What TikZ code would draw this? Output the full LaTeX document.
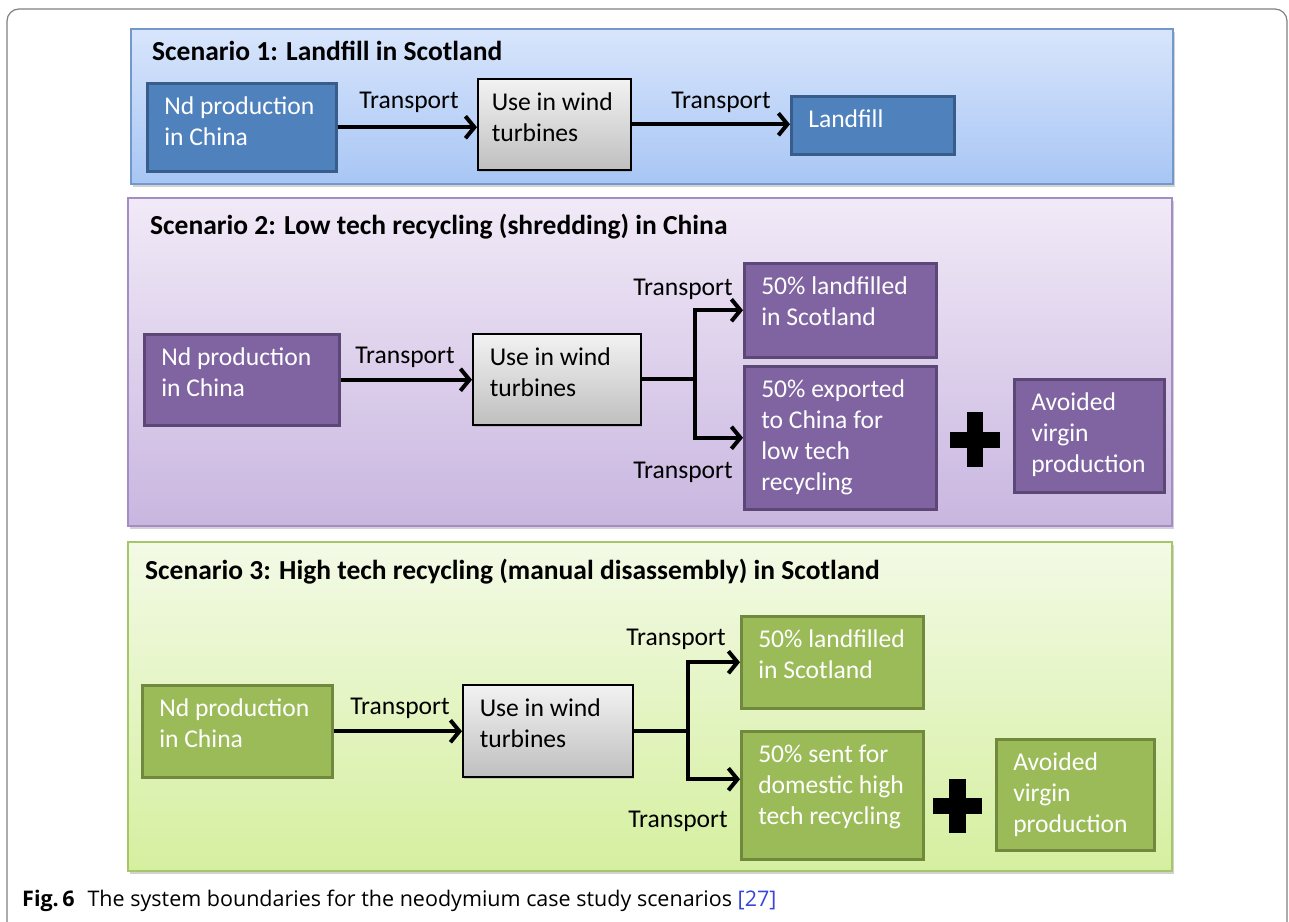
\documentclass[tikz,border=0pt]{standalone}
\usepackage{fontspec}
\setmainfont{Carlito}
\newfontfamily\capfont{Open Sans}
\usetikzlibrary{arrows.meta,shadows,calc}

\definecolor{sOneTop}{HTML}{D8E5FC}
\definecolor{sOneBot}{HTML}{A8C6F4}
\definecolor{sOneLine}{HTML}{7399CC}
\definecolor{sTwoTop}{HTML}{F1EAF7}
\definecolor{sTwoBot}{HTML}{C9B6E0}
\definecolor{sTwoLine}{HTML}{A48DC4}
\definecolor{sThreeTop}{HTML}{F3FAE6}
\definecolor{sThreeBot}{HTML}{D5EF9F}
\definecolor{sThreeLine}{HTML}{A6C66A}
\definecolor{blueBox}{HTML}{4F81BD}
\definecolor{blueEdge}{HTML}{385D8A}
\definecolor{purpleBox}{HTML}{8064A2}
\definecolor{purpleEdge}{HTML}{5C4776}
\definecolor{greenBox}{HTML}{9BBB59}
\definecolor{greenEdge}{HTML}{71893F}
\definecolor{capblue}{HTML}{3A45E0}
\definecolor{frameGray}{HTML}{808080}

\newcommand\boxtxt[3]{\parbox[t][#2][t]{#1}{\raggedright\strut #3}}

\begin{document}
\begin{tikzpicture}[x=1pt,y=-1pt,
  panel/.style={draw, line width=1.5pt, anchor=north west, inner sep=0pt,
    drop shadow={shadow xshift=2pt, shadow yshift=-3pt, opacity=0.35}},
  title/.style={anchor=base west, inner sep=0pt, font=\bfseries\fontsize{27.5}{32}\selectfont},
  box/.style={draw, line width=2.5pt, anchor=north west, inner xsep=17pt, inner ysep=10pt,
    text=white, font=\fontsize{25.6}{31}\selectfont,
    drop shadow={shadow xshift=1.5pt, shadow yshift=-2pt, opacity=0.3}},
  bluebox/.style={box, fill=blueBox, draw=blueEdge},
  purplebox/.style={box, fill=purpleBox, draw=purpleEdge},
  greenbox/.style={box, fill=greenBox, draw=greenEdge},
  usebox/.style={box, draw=black, line width=1.5pt, text=black, top color=white!95!black, bottom color=white!75!black},
  lbl/.style={anchor=base, inner sep=0pt, font=\fontsize{25.6}{30}\selectfont},
  conn/.style={line width=4pt, line join=miter},
  arr/.style={conn, -{Straight Barb[length=9pt,width=22pt]}}
]
\useasboundingbox (0,0) rectangle (1289,921);
\fill[white] (0,0) rectangle (1289,921);
\draw[frameGray, line width=1.2pt, rounded corners=12pt] (7,9) rectangle (1287,945);

% ---------- Scenario 1 ----------
\node[panel, draw=sOneLine, top color=sOneTop, bottom color=sOneBot,
  minimum width=1042pt, minimum height=155pt] (s1) at (130,28) {};
\node[title] (t1) at (152,60) {Scenario 1: Landfill in Scotland};
\node[bluebox] (n1) at (146,82) {\boxtxt{155pt}{68pt}{Nd production\\in China}};
\node[usebox, inner xsep=14pt] (u1) at (477,78) {\boxtxt{125pt}{71pt}{\mbox{Use in wind}\\turbines}};
\node[bluebox] (f1) at (790,95) {\boxtxt{129pt}{38pt}{Landfill}};
\draw[arr] (n1.east) -- (n1.east -| u1.west);
\draw[arr] (u1.east) -- (u1.east -| f1.west);
\node[lbl] (l1a) at (409,108) {Transport};
\node[lbl] (l1b) at (721,108) {Transport};

% ---------- Scenario 2 ----------
\node[panel, draw=sTwoLine, top color=sTwoTop, bottom color=sTwoBot,
  minimum width=1044pt, minimum height=328pt] (s2) at (127,197) {};
\node[title] (t2) at (150,234) {Scenario 2: Low tech recycling (shredding) in China};
\node[purplebox] (n2) at (143,333) {\boxtxt{161pt}{71pt}{Nd production\\in China}};
\node[usebox] (u2) at (472,333) {\boxtxt{134pt}{71pt}{Use in wind\\turbines}};
\node[purplebox] (a2) at (743,262) {\boxtxt{158pt}{74pt}{50\% landfilled\\in Scotland}};
\node[purplebox] (b2) at (743,365) {\boxtxt{158pt}{123pt}{50\% exported\\to China for\\low tech\\recycling}};
\node[purplebox] (v2) at (1013,378) {\boxtxt{116pt}{93pt}{Avoided\\virgin\\production}};
\coordinate (j2) at ($(u2.east)+(53,0)$);
\draw[arr] (n2.east) -- (n2.east -| u2.west);
\draw[conn] (u2.east) -- (j2);
\draw[arr] (j2) |- (a2.west);
\draw[arr] (j2) |- (b2.west);
\node[lbl] (l2a) at (405,363) {Transport};
\node[lbl] (l2b) at (683,295) {Transport};
\node[lbl] (l2c) at (683,478) {Transport};
\fill (950,432) rectangle (1000,448);
\fill (967,412) rectangle (983,467);

% ---------- Scenario 3 ----------
\node[panel, draw=sThreeLine, top color=sThreeTop, bottom color=sThreeBot,
  minimum width=1044pt, minimum height=329pt] (s3) at (127,541) {};
\node[title] (t3) at (145,579) {Scenario 3: High tech recycling (manual disassembly) in Scotland};
\node[greenbox] (n3) at (141,684) {\boxtxt{156pt}{72pt}{Nd production\\in China}};
\node[usebox] (u3) at (462,684) {\boxtxt{136pt}{72pt}{Use in wind\\turbines}};
\node[greenbox] (a3) at (740,615) {\boxtxt{148pt}{72pt}{50\% landfilled\\in Scotland}};
\node[greenbox] (b3) at (740,730) {\boxtxt{148pt}{108pt}{50\% sent for\\domestic high\\tech recycling}};
\node[greenbox] (v3) at (995,738) {\boxtxt{124pt}{91pt}{Avoided\\virgin\\production}};
\coordinate (j3) at ($(u3.east)+(54,0)$);
\draw[arr] (n3.east) -- (n3.east -| u3.west);
\draw[conn] (u3.east) -- (j3);
\draw[arr] (j3) |- (a3.west);
\draw[arr] (j3) |- ($(b3.west)+(0,-16)$);
\node[lbl] (l3a) at (400,714) {Transport};
\node[lbl] (l3b) at (676,645) {Transport};
\node[lbl] (l3c) at (678,827) {Transport};
\fill (933,798) rectangle (982,814);
\fill (949,779) rectangle (966,833);

% ---------- Caption ----------
\node[anchor=base west, inner sep=0pt, font=\capfont\fontsize{21.5}{24}\selectfont] (cap) at (22,906)
  {\textbf{Fig.\,6}\hspace{0.6em}The system boundaries for the neodymium case study scenarios \textcolor{capblue}{[27]}};
\end{tikzpicture}
\end{document}
